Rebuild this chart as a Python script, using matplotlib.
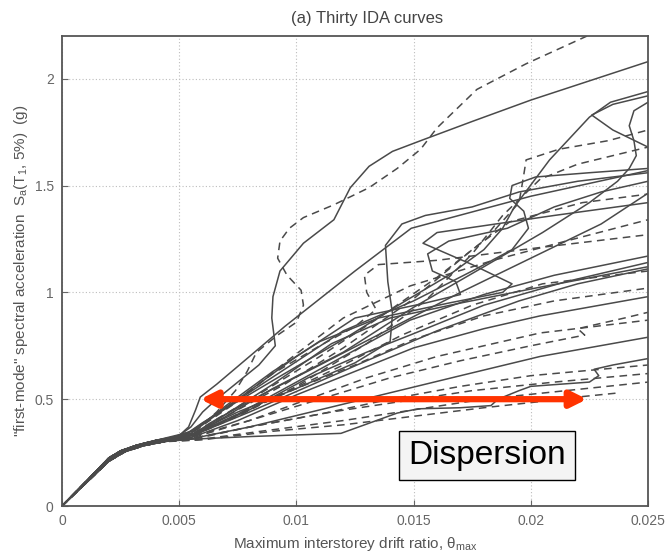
import matplotlib
matplotlib.use("Agg")
import matplotlib.pyplot as plt

plt.rcParams['font.family'] = ['Liberation Sans', 'DejaVu Sans']

# ---------------- data (drift ratio in per-mille, Sa in g) ----------------
ida_01 = [(0,0),(1,0.11),(2,0.22),(2.6,0.258),(3.3,0.283),(4.2,0.303),(5.0,0.33),(5.5,0.37),(6.0,0.44),(6.6,0.5),(7.5,0.58),(8.4,0.66),(9.1,0.75),(8.95,0.88),(9.0,0.98),(9.3,1.1),(10.3,1.23),(11.6,1.34),(12.3,1.49),(13.1,1.59),(14.1,1.66),(15.3,1.71),(17.5,1.8),(20,1.9),(25,2.08)]
ida_02 = [(0,0),(1,0.105),(2,0.21),(2.7,0.255),(3.5,0.283),(4.4,0.302),(5.0,0.32),(5.8,0.36),(6.6,0.44),(7.4,0.54),(7.9,0.63),(8.3,0.72),(9.2,0.8),(10.0,0.86),(10.3,0.94),(10.2,1.01),(9.6,1.08),(9.2,1.16),(9.3,1.24),(9.7,1.3),(10.3,1.35),(11.6,1.41),(13.1,1.49),(14.3,1.58),(15.3,1.67),(16.0,1.77),(17.7,1.95),(19.8,2.07),(22.4,2.2)]
ida_03 = [(0,0),(1,0.112),(2,0.225),(2.5,0.258),(3.2,0.285),(4.0,0.307),(5.2,0.33),(6.0,0.39),(7.5,0.49),(9.5,0.62),(12.0,0.78),(14.5,0.95),(16.5,1.08),(18.0,1.2),(18.8,1.3),(19.3,1.4),(20.8,1.62),(22.5,1.82),(23.4,1.89),(25,1.94)]
ida_04 = [(0,0),(1,0.11),(2,0.22),(2.6,0.258),(3.3,0.283),(4.2,0.303),(5.5,0.33),(6.5,0.4),(8.5,0.52),(11,0.66),(14,0.83),(17,1.0),(20,1.16),(23,1.32),(25.5,1.5),(26,1.62),(25,1.68),(23.5,1.76),(22.6,1.83),(23.5,1.88),(25,1.92)]
ida_05 = [(0,0),(1,0.105),(2,0.21),(2.7,0.255),(3.5,0.283),(4.4,0.302),(5.5,0.32),(7,0.42),(9,0.55),(12,0.72),(15,0.93),(18,1.12),(20.5,1.28),(22.5,1.42),(23.7,1.52),(24.2,1.58),(24.5,1.64),(24.4,1.71),(24.2,1.78),(24.4,1.85),(25,1.89)]
ida_06 = [(0,0),(1,0.112),(2,0.225),(2.5,0.258),(3.2,0.285),(4.0,0.307),(5.5,0.34),(7,0.46),(9.5,0.64),(12,0.82),(15,0.96),(17.5,1.1),(19.2,1.2),(19.9,1.3),(19.7,1.38),(19.1,1.44),(19.2,1.5),(20.2,1.54),(22.5,1.56),(25,1.58)]
ida_07 = [(0,0),(1,0.11),(2,0.22),(2.6,0.258),(3.3,0.283),(4.2,0.303),(5.0,0.33),(5.4,0.37),(5.7,0.45),(5.9,0.51),(6.6,0.57),(8,0.7),(9.5,0.84),(12.5,1.1),(14.9,1.3),(20,1.45),(25,1.57)]
ida_08 = [(0,0),(1,0.105),(2,0.21),(2.7,0.255),(3.5,0.283),(4.4,0.302),(5.3,0.32),(6.5,0.4),(8.5,0.53),(11,0.7),(13.5,0.88),(16,1.07),(18.2,1.26),(19.5,1.42),(19.7,1.55),(19.8,1.62),(21.2,1.67),(23.3,1.71),(25,1.76)]
ida_09 = [(0,0),(1,0.112),(2,0.225),(2.5,0.258),(3.2,0.285),(4.0,0.307),(5.6,0.33),(7.5,0.42),(10,0.56),(13,0.76),(15.5,0.96),(17.5,1.18),(18.8,1.36),(20.4,1.53),(22,1.6),(25,1.68)]
ida_10 = [(0,0),(1,0.11),(2,0.22),(2.6,0.258),(3.3,0.283),(4.2,0.303),(5.4,0.32),(7,0.42),(9.5,0.57),(12,0.74),(15,0.97),(17.5,1.2),(19.1,1.33),(22.2,1.42),(25,1.46)]
ida_11 = [(0,0),(1,0.105),(2,0.21),(2.7,0.255),(3.5,0.283),(4.4,0.302),(5.5,0.34),(7.5,0.49),(9.5,0.67),(12,0.88),(14.85,1.03),(18.4,1.15),(21.5,1.24),(25,1.34)]
ida_12 = [(0,0),(1,0.112),(2,0.225),(2.5,0.258),(3.2,0.285),(4.0,0.307),(5.5,0.33),(7.5,0.43),(10,0.58),(12.5,0.73),(14.85,0.87),(18,0.99),(21,1.08),(25,1.17)]
ida_13 = [(0,0),(1,0.11),(2,0.22),(2.6,0.258),(3.3,0.283),(4.2,0.303),(5.8,0.34),(8,0.45),(10.5,0.6),(13,0.72),(14.85,0.8),(18,0.94),(21.5,1.05),(25,1.14)]
ida_14 = [(0,0),(1,0.105),(2,0.21),(2.7,0.255),(3.5,0.283),(4.4,0.302),(5.6,0.33),(7,0.43),(9,0.57),(11.5,0.76),(14,0.88),(17,0.95),(20.2,1.02),(25,1.12)]
ida_15 = [(0,0),(1,0.112),(2,0.225),(2.5,0.258),(3.2,0.285),(4.0,0.307),(5.6,0.35),(7,0.47),(9,0.63),(11,0.77),(13.5,0.88),(16.5,0.95),(18.8,1.0),(19.2,1.04),(17.5,1.13),(15.4,1.23),(16,1.28),(18.5,1.32),(21,1.36),(25,1.42)]
ida_16 = [(0,0),(1,0.11),(2,0.22),(2.6,0.258),(3.3,0.283),(4.2,0.303),(5.8,0.34),(8,0.44),(10.5,0.56),(13,0.68),(16,0.82),(19.5,0.96),(22,1.04),(25,1.11)]
ida_17 = [(0,0),(1,0.105),(2,0.21),(2.7,0.255),(3.5,0.283),(4.4,0.302),(5.5,0.32),(7.5,0.4),(10,0.52),(12.5,0.63),(15,0.74),(18,0.83),(20.4,0.89),(25,0.98)]
ida_18 = [(0,0),(1,0.112),(2,0.225),(2.5,0.258),(3.2,0.285),(4.0,0.307),(5.6,0.32),(8,0.4),(10.5,0.5),(13,0.6),(16,0.7),(20.4,0.81),(25,0.87)]
ida_19 = [(0,0),(1,0.11),(2,0.22),(2.6,0.258),(3.3,0.283),(4.2,0.303),(5.7,0.33),(8,0.4),(11,0.5),(14,0.6),(17,0.68),(20,0.75),(22.3,0.8),(22.0,0.83),(22.8,0.85),(24,0.88),(25.5,0.92)]
ida_20 = [(0,0),(1,0.105),(2,0.21),(2.7,0.255),(3.5,0.283),(4.4,0.302),(5.3,0.31),(8,0.37),(11,0.45),(14,0.53),(17,0.61),(20.4,0.7),(25,0.79)]
ida_21 = [(0,0),(1,0.112),(2,0.225),(2.5,0.258),(3.2,0.285),(4.0,0.3),(5.0,0.31),(8,0.325),(11.9,0.34),(14.3,0.435),(15.2,0.455),(17,0.46),(18.3,0.47),(18.6,0.5),(19.5,0.54),(20,0.56),(22.5,0.58),(22.9,0.61),(22.7,0.64),(23.5,0.66),(25,0.69)]
ida_22 = [(0,0),(1,0.11),(2,0.22),(2.6,0.258),(3.3,0.283),(4.2,0.303),(5.5,0.31),(8,0.37),(11,0.43),(14,0.5),(17,0.56),(20,0.61),(25,0.66)]
ida_23 = [(0,0),(1,0.105),(2,0.21),(2.7,0.255),(3.5,0.283),(4.4,0.302),(5.7,0.32),(8.5,0.38),(11.5,0.44),(14.5,0.49),(17.5,0.54),(21,0.58),(25,0.62)]
ida_24 = [(0,0),(1,0.112),(2,0.225),(2.5,0.258),(3.2,0.285),(4.0,0.3),(5.8,0.31),(8.5,0.35),(12,0.4),(15,0.45),(18,0.5),(21.5,0.54),(25,0.58)]
ida_25 = [(0,0),(1,0.11),(2,0.22),(2.6,0.258),(3.3,0.283),(4.2,0.3),(6,0.31),(9,0.35),(12,0.38),(15,0.42),(18,0.46),(20.5,0.49),(22,0.51),(23.8,0.53)]
ida_26 = [(0,0),(1,0.105),(2,0.21),(2.7,0.255),(3.5,0.283),(4.4,0.302),(5.4,0.34),(7,0.46),(9,0.62),(11,0.75),(12.5,0.84),(13.4,0.92),(13.0,1.0),(12.9,1.08),(13.5,1.13),(16,1.15),(20.4,1.21),(25,1.27)]
ida_27 = [(0,0),(1,0.112),(2,0.225),(2.5,0.258),(3.2,0.285),(4.0,0.307),(5.6,0.34),(7.5,0.44),(10,0.55),(12.5,0.67),(14.0,0.77),(14.1,0.9),(13.9,1.05),(13.8,1.22),(14.5,1.32),(15.5,1.36),(17.5,1.4),(19.5,1.47),(22,1.52),(25,1.56)]
ida_28 = [(0,0),(1,0.11),(2,0.22),(2.6,0.258),(3.3,0.283),(4.2,0.303),(5.5,0.35),(7.5,0.5),(10,0.7),(12.5,0.88),(15.5,0.95),(17,0.99),(16.8,1.05),(15.8,1.1),(15.6,1.18),(16.5,1.24),(19,1.3),(21,1.4),(23,1.47),(25,1.52)]
ida_29 = [(0,0),(1,0.105),(2,0.21),(2.7,0.255),(3.5,0.283),(4.4,0.302),(5.6,0.33),(7.5,0.43),(10,0.55),(12.5,0.66),(15,0.78),(18,0.89),(21,0.96),(25,1.02)]
ida_30 = [(0,0),(1,0.112),(2,0.225),(2.5,0.258),(3.2,0.285),(4.0,0.307),(5.4,0.32),(7.2,0.41),(9.5,0.53),(12,0.66),(14.5,0.8),(17.5,0.94),(20.5,1.04),(25,1.1)]

curves = [ida_01, ida_02, ida_03, ida_04, ida_05, ida_06, ida_07, ida_08, ida_09, ida_10,
          ida_11, ida_12, ida_13, ida_14, ida_15, ida_16, ida_17, ida_18, ida_19, ida_20,
          ida_21, ida_22, ida_23, ida_24, ida_25, ida_26, ida_27, ida_28, ida_29, ida_30]
dashed_curve = [False, True, False, False, False, False, False, True, True, True,
                True, False, False, False, False, False, False, True, True, False,
                False, True, True, True, True, True, False, False, True, True]

x_ticks = [0, 0.005, 0.01, 0.015, 0.02, 0.025]
x_tick_labels = ['0', '0.005', '0.01', '0.015', '0.02', '0.025']
y_ticks = [0, 0.5, 1, 1.5, 2]
y_tick_labels = ['0', '0.5', '1', '1.5', '2']

arrow_left = (0.0059, 0.5)
arrow_right = (0.0224, 0.5)
label_pos = (0.01813, 0.237)

# ---------------- figure ----------------
fig = plt.figure(figsize=(6.68, 5.57), dpi=100)
ax = fig.add_axes([62/668, 51/557, 586/668, 470/557])

line_color = '#4a4a4a'
for pts, dashed in zip(curves, dashed_curve):
    xs = [p[0] * 1e-3 for p in pts]
    ys = [p[1] for p in pts]
    if dashed:
        ax.plot(xs, ys, color=line_color, lw=1.1, linestyle=(0, (5, 3.5)))
    else:
        ax.plot(xs, ys, color=line_color, lw=1.1)

ax.set_xlim(0, 0.025)
ax.set_ylim(0, 2.2)
ax.set_xticks(x_ticks)
ax.set_xticklabels(x_tick_labels)
ax.set_yticks(y_ticks)
ax.set_yticklabels(y_tick_labels)
ax.tick_params(direction='in', length=4, colors='#666666', labelsize=10, pad=6)
ax.grid(True, color='#bdbdbd', linestyle=(0, (1, 2)), lw=0.8)
for s in ax.spines.values():
    s.set_color('#555555')
    s.set_linewidth(1.3)

ax.set_title('(a) Thirty IDA curves', fontsize=12, color='#444444', pad=9, x=0.52)
ax.set_xlabel(r'Maximum interstorey drift ratio, $\mathregular{\theta_{max}}$',
              fontsize=11, color='#555555', labelpad=5)
ax.set_ylabel(r'"first-mode" spectral acceleration  S$\mathregular{_a}$(T$\mathregular{_1}$, 5%)  (g)',
              fontsize=11, color='#555555', labelpad=3)

ax.annotate('', xy=arrow_left, xytext=arrow_right,
            arrowprops=dict(arrowstyle='<|-|>', color='#ff3300', lw=4.5,
                            mutation_scale=24, shrinkA=0, shrinkB=0))
ax.text(label_pos[0], label_pos[1], 'Dispersion', fontsize=24, ha='center', va='center',
        color='black',
        bbox=dict(boxstyle='square,pad=0.28', facecolor='#f4f4f4', edgecolor='black', lw=1))

fig.savefig('out.png', dpi=100)
